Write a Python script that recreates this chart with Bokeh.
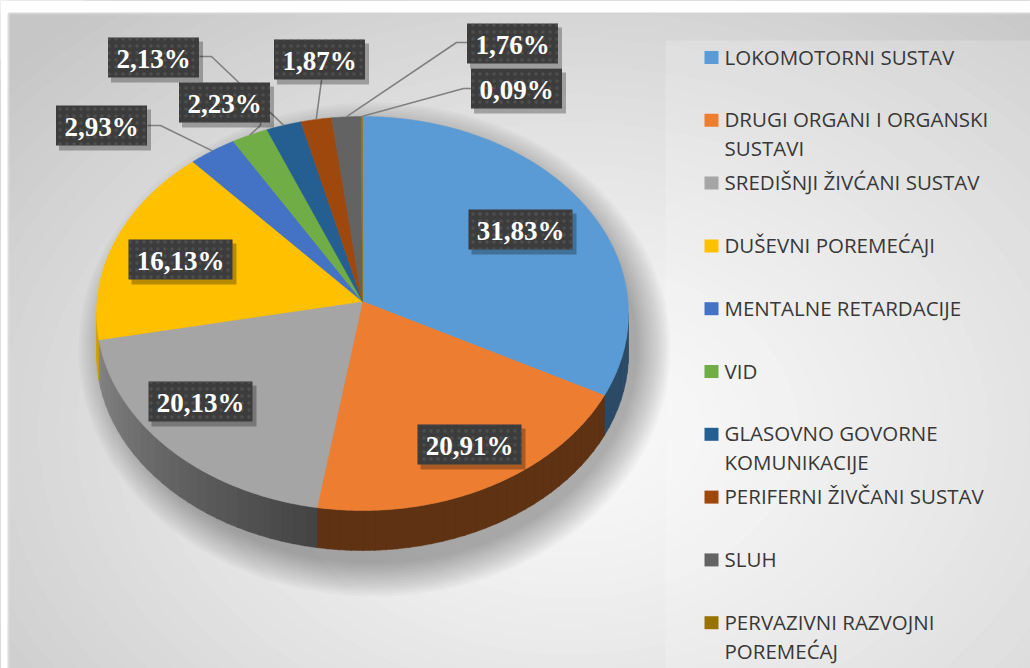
import textwrap
import numpy as np
from bokeh.plotting import figure
from bokeh.models import Range1d
from bokeh.embed import file_html
from bokeh.resources import INLINE
from bokeh.core.properties import value

# ---------------- data ----------------
categories = [
    "LOKOMOTORNI SUSTAV",
    "DRUGI ORGANI I ORGANSKI SUSTAVI",
    "SREDIŠNJI ŽIVĆANI SUSTAV",
    "DUŠEVNI POREMEĆAJI",
    "MENTALNE RETARDACIJE",
    "VID",
    "GLASOVNO GOVORNE KOMUNIKACIJE",
    "PERIFERNI ŽIVČANI SUSTAV",
    "SLUH",
    "PERVAZIVNI RAZVOJNI POREMEĆAJ",
]
values = [31.83, 20.91, 20.13, 16.13, 2.93, 2.23, 2.13, 1.87, 1.76, 0.09]
colors = ["#5B9BD5", "#ED7D31", "#A5A5A5", "#FFC000", "#4472C4",
          "#70AD47", "#255E91", "#9E480E", "#636363", "#997300"]

# ---------------- layout (screen px) ----------------
W, H = 1030, 668
CX, CY, RX, RY = 362, 313, 266, 197
APEX_Y = 301
DEPTH = 40
label_xy = [(520, 229), (469, 444), (200, 401), (180, 259), (101, 125),
            (224, 102), (153, 57), (319, 59), (512, 43), (516, 88)]
leader_start = {4: (147, 125), 5: (260, 122), 6: (199, 56), 7: (321, 79),
                8: (467, 42), 9: (471, 88)}
leader_elbow = {4: (160, 125), 5: (260, 125), 6: (211, 56), 7: (321, 80),
                8: (456, 42), 9: (463, 88)}


def Y(y):
    return H - np.asarray(y, dtype=float)


def hexrgb(c):
    c = c.lstrip("#")
    return [int(c[i:i + 2], 16) for i in (0, 2, 4)]


def shade(c, f):
    r, g, b = hexrgb(c)
    return "#%02x%02x%02x" % (int(r * f), int(g * f), int(b * f))


def rim(theta, dy=0.0):
    t = np.radians(theta)
    return CX + RX * np.sin(t), CY - RY * np.cos(t) + dy


p = figure(width=W, height=H, output_backend="svg", toolbar_location=None,
           x_range=Range1d(0, W), y_range=Range1d(0, H), min_border=0)
p.axis.visible = False
p.grid.visible = False
p.outline_line_color = None
p.background_fill_color = "#c6c6c6"
p.border_fill_color = "white"

# ---- background radial gradient ----
N = 40
GX, GY, GRX, GRY = 570, 430, 760, 560
for k in range(N):
    d = 1 - k / N
    v = 250 - (250 - 198) * d ** 1.3
    col = "#%02x%02x%02x" % (int(v), int(v), int(v))
    p.ellipse(x=[GX], y=Y([GY]), width=[2 * GRX * d], height=[2 * GRY * d],
              fill_color=col, line_color=None)

# legend panel lightening
p.quad(left=[665], right=[W], top=Y([40]), bottom=Y([H]),
       fill_color="white", fill_alpha=0.18, line_color=None)

# ---- pie shadow ----
for k in range(14):
    p.ellipse(x=[CX + 12], y=Y([CY + DEPTH / 2 + 16]),
              width=[2 * (RX + 30 - 2.5 * k)], height=[2 * (RY + 30 - 2.5 * k) + DEPTH],
              fill_color="black", fill_alpha=0.022, line_color=None)

# ---- pie ----
cum = np.concatenate([[0], np.cumsum(values)])
ang = cum / cum[-1] * 360.0

# side walls (front half, 90..270 deg)
for i in range(len(values)):
    a0, a1 = max(ang[i], 90), min(ang[i + 1], 270)
    if a1 <= a0:
        continue
    nstrip = max(1, int((a1 - a0) / 2.5))
    edges = np.linspace(a0, a1, nstrip + 1)
    for s in range(nstrip):
        t = np.linspace(edges[s], edges[s + 1] + 0.3, 6)
        xt, yt = rim(t)
        xb, yb = rim(t[::-1], DEPTH)
        mid = 0.5 * (edges[s] + edges[s + 1])
        if mid < 115:
            f = 0.48
        else:
            f = 0.40 + max(0.0, mid - 188) / 82 * 0.45
        col = shade(colors[i], f)
        p.patch(x=np.concatenate([xt, xb]), y=Y(np.concatenate([yt, yb])),
                fill_color=col, line_color=col, line_width=0.5)

# top faces
for i in range(len(values)):
    t = np.linspace(ang[i], ang[i + 1], max(3, int((ang[i + 1] - ang[i]) * 2)))
    xr, yr = rim(t)
    xs = np.concatenate([[CX], xr])
    ys = np.concatenate([[APEX_Y], yr])
    p.patch(x=xs, y=Y(ys), fill_color=colors[i], line_color=colors[i], line_width=0.5)

# ---- leader lines ----
mids = 0.5 * (ang[:-1] + ang[1:])
for i, st in leader_start.items():
    ex, ey = rim(mids[i])
    el = leader_elbow[i]
    p.line(x=[st[0], el[0], ex], y=Y([st[1], el[1], ey]),
           line_color="#808080", line_width=1.6)

# ---- data labels ----
for i, v in enumerate(values):
    txt = ("%.2f" % v).replace(".", ",") + "%"
    w = 13 * len(txt) + 26
    h = 40
    x, y = label_xy[i]
    p.quad(left=[x - w / 2 + 3], right=[x + w / 2 + 4], top=Y([y - h / 2 + 4]),
           bottom=Y([y + h / 2 + 5]), fill_color="black", fill_alpha=0.28, line_color=None)
    p.quad(left=[x - w / 2], right=[x + w / 2], top=Y([y - h / 2]), bottom=Y([y + h / 2]),
           fill_color="#3c3c3c", line_color=None,
           hatch_pattern="dot", hatch_color="#5a5a5a", hatch_scale=7, hatch_alpha=0.6)
    p.text(x=[x], y=Y([y + 1]), text=[txt], text_font=value("Liberation Serif"),
           text_font_style="bold", text_font_size="27px", text_color="white",
           text_align="center", text_baseline="middle")

# ---- legend ----
LX, LY0, LSTEP, LLINE = 704, 57, 62.8, 29
for i, cat in enumerate(categories):
    yc = LY0 + i * LSTEP
    p.quad(left=[LX], right=[LX + 14], top=Y([yc - 6.5]), bottom=Y([yc + 6.5]),
           fill_color=colors[i], line_color=None)
    for j, line in enumerate(textwrap.wrap(cat, 25)):
        p.text(x=[LX + 20], y=Y([yc + j * LLINE - 1]), text=[line],
               text_font=value("Open Sans"), text_font_size="20.5px",
               text_color="#383838", text_align="left", text_baseline="middle")

# ---- outer white margin and frame ----
p.quad(left=[0], right=[W], top=Y([0]), bottom=Y([13]), fill_color="white", line_color=None)
p.quad(left=[0], right=[8], top=Y([0]), bottom=Y([H]), fill_color="white", line_color=None)
p.line(x=[8, W], y=Y([13, 13]), line_color="#d4d4d4", line_width=2)
p.line(x=[8, 8], y=Y([13, H]), line_color="#dcdcdc", line_width=2)

open("out.html", "w").write(file_html(p, INLINE))
